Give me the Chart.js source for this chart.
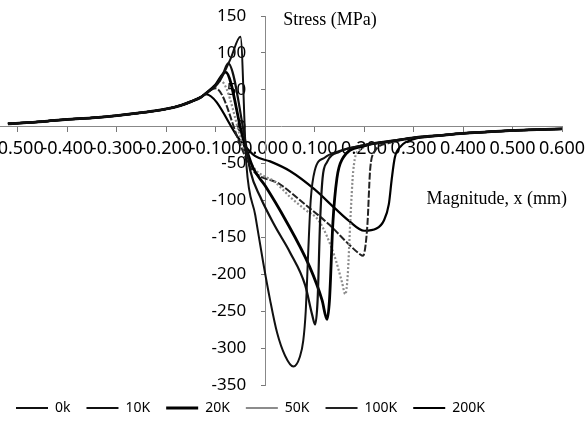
<!DOCTYPE html>
<html>
<head>
<meta charset="utf-8">
<script src="https://cdn.jsdelivr.net/npm/chart.js@4.4.1/dist/chart.umd.min.js"></script>
<style>
  html, body { margin: 0; padding: 0; background: #fff; }
</style>
</head>
<body>
<canvas id="stress-chart" width="587" height="425"></canvas>
<script>
// series names as in the legend
const seriesNames = ['0k', '10K', '20K', '50K', '100K', '200K'];

// axis ticks
const xTicks = [-0.5, -0.4, -0.3, -0.2, -0.1, 0, 0.1, 0.2, 0.3, 0.4, 0.5, 0.6];
const yTicks = [150, 100, 50, 0, -50, -100, -150, -200, -250, -300, -350];

// magnitude x (mm) and stress (MPa)
const x0k = [-0.52, -0.45, -0.4, -0.35, -0.3, -0.25, -0.2, -0.17, -0.15, -0.13, -0.12, -0.1, -0.09, -0.07, -0.05, -0.038, -0.02, -0.004, 0.01, 0.024, 0.04, 0.057, 0.07, 0.077, 0.082, 0.087, 0.092, 0.1, 0.12, 0.15, 0.2, 0.25, 0.3, 0.35, 0.4, 0.45, 0.5, 0.55, 0.6];
const y0k = [4, 7, 10, 12, 15, 19, 24, 29, 34, 40, 45, 55, 64, 92, 122, -51, -120, -184, -235, -279, -310, -325, -312, -290, -250, -170, -100, -60, -42, -33, -25, -20, -15, -12, -9, -7, -5, -4, -3];

const x10k = [-0.52, -0.45, -0.4, -0.35, -0.3, -0.25, -0.2, -0.17, -0.15, -0.13, -0.12, -0.1, -0.085, -0.075, -0.04, -0.03, -0.01, 0.02, 0.05, 0.081, 0.095, 0.101, 0.106, 0.111, 0.116, 0.125, 0.15, 0.2, 0.25, 0.3, 0.35, 0.4, 0.45, 0.5, 0.55, 0.6];
const y10k = [4, 7, 10, 12, 15, 19, 24, 29, 34, 40, 45, 56, 72, 86, -20, -60, -95, -135, -170, -215, -255, -268, -235, -129, -70, -48, -34, -25, -20, -15, -12, -9, -7, -5, -4, -3];

const x20k = [-0.52, -0.45, -0.4, -0.35, -0.3, -0.25, -0.2, -0.17, -0.15, -0.13, -0.12, -0.1, -0.08, -0.045, -0.025, 0, 0.04, 0.09, 0.115, 0.125, 0.13, 0.137, 0.145, 0.155, 0.2, 0.25, 0.3, 0.35, 0.4, 0.45, 0.5, 0.55, 0.6];
const y20k = [4, 7, 10, 12, 15, 19, 24, 29, 34, 40, 45, 57, 74, -15, -55, -80, -125, -190, -235, -261, -235, -129, -70, -45, -26, -20, -15, -12, -9, -7, -5, -4, -3];

const x50k = [-0.52, -0.45, -0.4, -0.35, -0.3, -0.25, -0.2, -0.17, -0.15, -0.13, -0.12, -0.1, -0.09, -0.04, -0.02, 0.02, 0.05, 0.08, 0.11, 0.14, 0.155, 0.162, 0.167, 0.172, 0.178, 0.19, 0.25, 0.3, 0.35, 0.4, 0.45, 0.5, 0.55, 0.6];
const y50k = [4, 7, 10, 12, 15, 19, 24, 29, 34, 40, 45, 56, 62, -35, -58, -75, -95, -112, -129, -175, -210, -227, -200, -129, -60, -32, -21, -15, -12, -9, -7, -5, -4, -3];

const x100k = [-0.52, -0.45, -0.4, -0.35, -0.3, -0.25, -0.2, -0.17, -0.15, -0.13, -0.12, -0.1, -0.05, -0.03, 0.03, 0.08, 0.13, 0.17, 0.19, 0.198, 0.203, 0.207, 0.212, 0.22, 0.25, 0.3, 0.35, 0.4, 0.45, 0.5, 0.55, 0.6];
const y100k = [4, 7, 10, 12, 15, 19, 24, 29, 34, 40, 45, 52, -25, -55, -78, -105, -133, -160, -172, -175, -160, -129, -60, -35, -22, -15, -12, -9, -7, -5, -4, -3];

const x200k = [-0.52, -0.45, -0.4, -0.35, -0.3, -0.25, -0.2, -0.17, -0.15, -0.13, -0.12, -0.05, -0.02, 0.01, 0.05, 0.1, 0.14, 0.17, 0.2, 0.225, 0.24, 0.25, 0.256, 0.262, 0.275, 0.3, 0.35, 0.4, 0.45, 0.5, 0.55, 0.6];
const y200k = [4, 7, 10, 12, 15, 19, 24, 29, 34, 40, 44, -19, -40, -47, -60, -85, -110, -128, -141, -138, -127, -105, -70, -42, -26, -17, -12, -9, -7, -5, -4, -3];

function toPoints(xs, ys) {
    return xs.map((x, i) => ({ x: x, y: ys[i] }));
}

function makeSet(label, xs, ys, color, width, dash) {
    return {
        label: label,
        data: toPoints(xs, ys),
        borderColor: color,
        backgroundColor: color,
        borderWidth: width,
        borderDash: dash,
        pointRadius: 0,
        fill: false,
        cubicInterpolationMode: 'monotone'
    };
}

// axis titles sit next to the crossing axes
const axisTitles = {
    id: 'axisTitles',
    afterDraw(chart) {
        const { ctx, scales: { x, y } } = chart;
        ctx.save();
        ctx.fillStyle = '#000';
        ctx.font = '18px "Liberation Serif", "Times New Roman", serif';
        ctx.textBaseline = 'middle';
        ctx.textAlign = 'left';
        ctx.fillText('Stress (MPa)', x.getPixelForValue(0) + 18, y.getPixelForValue(144));
        ctx.textAlign = 'right';
        ctx.fillText('Magnitude, x (mm)', x.getPixelForValue(0.61), y.getPixelForValue(-99));
        ctx.restore();
    }
};

// y labels of an axis placed at x = 0 sit right on the line, move them left a bit
const yLabelGap = {
    id: 'yLabelGap',
    beforeDraw(chart) {
        const y = chart.scales.y;
        const axisX = chart.scales.x.getPixelForValue(0);
        y.getLabelItems().forEach(item => {
            item.options.translation[0] = axisX - 19;
        });
    }
};

document.addEventListener('DOMContentLoaded', function() {
    const ctx = document.getElementById('stress-chart').getContext('2d');
    new Chart(ctx, {
        type: 'line',
        data: {
            datasets: [
                makeSet(seriesNames[0], x0k, y0k, '#111', 2, []),
                makeSet(seriesNames[1], x10k, y10k, '#111', 2.2, []),
                makeSet(seriesNames[2], x20k, y20k, '#000', 2.8, []),
                makeSet(seriesNames[3], x50k, y50k, '#8c8c8c', 2.2, [2, 2]),
                makeSet(seriesNames[4], x100k, y100k, '#222', 2, [7, 2]),
                makeSet(seriesNames[5], x200k, y200k, '#000', 2.2, [])
            ]
        },
        options: {
            responsive: false,
            animation: false,
            layout: {
                padding: { left: 0, right: 25, top: 16, bottom: 0 }
            },
            scales: {
                x: {
                    type: 'linear',
                    position: { y: 0 },
                    min: -0.536,
                    max: 0.6,
                    afterBuildTicks: function(scale) {
                        scale.ticks = xTicks.map(v => ({ value: v }));
                    },
                    afterFit: function(scale) {
                        scale.paddingLeft = 0;
                        scale.paddingRight = 0;
                    },
                    grid: { drawOnChartArea: false, tickLength: 5, color: '#777' },
                    border: { color: '#888', dash: [3, 2] },
                    ticks: {
                        autoSkip: false,
                        maxRotation: 0,
                        padding: 6,
                        color: '#000',
                        font: { family: 'Noto Sans', size: 18 },
                        callback: v => v.toFixed(3)
                    }
                },
                y: {
                    type: 'linear',
                    position: { x: 0 },
                    min: -350,
                    max: 150,
                    afterBuildTicks: function(scale) {
                        scale.ticks = yTicks.map(v => ({ value: v }));
                    },
                    grid: { drawOnChartArea: false, tickLength: 4, color: '#777' },
                    border: { color: '#888', dash: [3, 2] },
                    ticks: {
                        color: '#000',
                        font: { family: 'Noto Sans', size: 17 }
                    }
                }
            },
            plugins: {
                legend: {
                    position: 'bottom',
                    align: 'start',
                    labels: {
                        usePointStyle: true,
                        pointStyle: 'line',
                        pointStyleWidth: 32,
                        padding: 16,
                        color: '#000',
                        font: { family: 'Noto Sans', size: 14 }
                    }
                },
                tooltip: { enabled: false }
            }
        },
        plugins: [axisTitles, yLabelGap]
    });
});
</script>
</body>
</html>
